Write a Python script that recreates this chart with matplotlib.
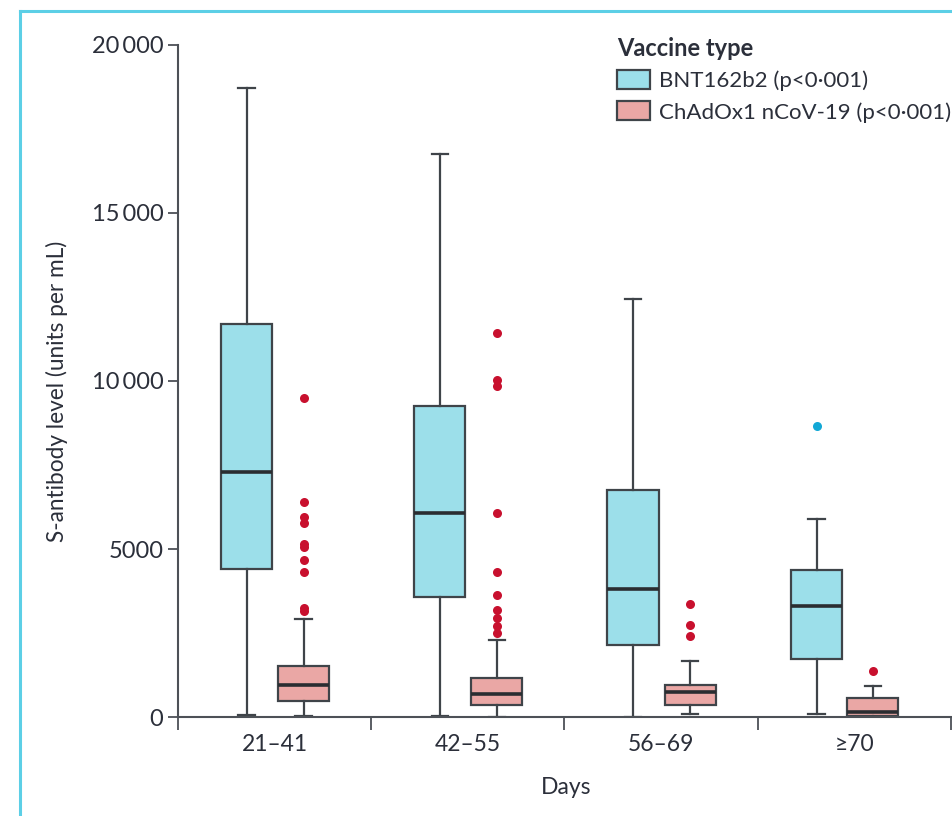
import matplotlib
matplotlib.use("Agg")
import matplotlib.pyplot as plt
from matplotlib.patches import Patch
from matplotlib.lines import Line2D
from matplotlib import font_manager

# ---------------- data ----------------
categories = ["21\u201341", "42\u201355", "56\u201369", "\u226570"]

bnt_whislo = [50, 20, 10, 80]
bnt_q1 = [4405, 3571, 2143, 1726]
bnt_med = [7292, 6071, 3810, 3304]
bnt_q3 = [11696, 9256, 6756, 4375]
bnt_whishi = [18720, 16756, 12440, 5893]
bnt_fliers = [[], [], [], [8661]]

chad_whislo = [30, 10, 80, 0]
chad_q1 = [490, 357, 367, 40]
chad_med = [940, 694, 735, 160]
chad_q3 = [1530, 1170, 943, 575]
chad_whishi = [2926, 2292, 1676, 932]
chad_fliers = [
    [9494, 6408, 5962, 5764, 5139, 5069, 4673, 4306, 3235, 3164],
    [11419, 10030, 9851, 6081, 4325, 3621, 3184, 2936, 2708, 2490],
    [3363, 2738, 2401],
    [1378],
]

series_labels = ["BNT162b2 (p<0\u00b7001)", "ChAdOx1 nCoV-19 (p<0\u00b7001)"]
legend_title = "Vaccine type"
y_ticks = [0, 5000, 10000, 15000, 20000]
y_ticklabels = ["0", "5000", "10\u2009000", "15\u2009000", "20\u2009000"]

# ---------------- style ----------------
avail = {f.name for f in font_manager.fontManager.ttflist}
main_font = ["Lato", "DejaVu Sans"]
narrow_font = (["Liberation Sans Narrow", "Lato", "DejaVu Sans"]
               if "Liberation Sans Narrow" in avail else ["Lato", "DejaVu Sans"])
plt.rcParams["font.family"] = main_font

text_col = "#2b2f3a"
axis_col = "#4d5157"
edge_col = "#3f4449"
med_col = "#2a2d31"
bnt_fill = "#9cdfea"
chad_fill = "#eaa7a5"
red = "#c8102e"
cyan = "#12a8d6"

fig = plt.figure(figsize=(9.53, 8.16), dpi=100)
W, H = 953, 816
ax = fig.add_axes([178 / W, 1 - 717 / H, (951 - 178) / W, (717 - 45) / H])

def stats(whislo, q1, med, q3, whishi, fliers):
    return [dict(whislo=a, q1=b, med=c, q3=d, whishi=e, fliers=f)
            for a, b, c, d, e, f in zip(whislo, q1, med, q3, whishi, fliers)]

n = len(categories)
bnt_pos = [i - 0.145 for i in range(n)]
chad_pos = [i + 0.15 for i in range(n)]
bnt_pos[3] -= 0.05
chad_pos[3] -= 0.055

common = dict(widths=0.265, patch_artist=True, capwidths=0.085,
              whiskerprops=dict(color=edge_col, lw=1.6),
              capprops=dict(color=edge_col, lw=1.6),
              medianprops=dict(color=med_col, lw=2.6),
              manage_ticks=False)

ax.bxp(stats(bnt_whislo, bnt_q1, bnt_med, bnt_q3, bnt_whishi, bnt_fliers),
       positions=bnt_pos,
       boxprops=dict(facecolor=bnt_fill, edgecolor=edge_col, lw=1.6),
       flierprops=dict(marker="o", markerfacecolor=cyan, markeredgewidth=0,
                       markersize=6.5),
       **common)
ax.bxp(stats(chad_whislo, chad_q1, chad_med, chad_q3, chad_whishi, chad_fliers),
       positions=chad_pos,
       boxprops=dict(facecolor=chad_fill, edgecolor=edge_col, lw=1.6),
       flierprops=dict(marker="o", markerfacecolor=red, markeredgewidth=0,
                       markersize=6.5),
       **common)

ax.set_xlim(-0.5, n - 0.5)
ax.set_ylim(0, 20000)
for s in ["top", "right"]:
    ax.spines[s].set_visible(False)
for s in ["left", "bottom"]:
    ax.spines[s].set_color(axis_col)
    ax.spines[s].set_linewidth(1.5)

ax.set_yticks(y_ticks)
ax.set_yticklabels(y_ticklabels)
ax.tick_params(axis="y", direction="out", length=7.5, width=1.3, color=axis_col,
               labelsize=17, labelcolor=text_col, pad=3)

ax.set_xticks([i - 0.5 for i in range(n + 1)])
ax.set_xticklabels([])
ax.tick_params(axis="x", which="major", direction="out", length=9, width=1.3,
               color=axis_col)
ax.set_xticks(range(n), minor=True)
ax.set_xticklabels(categories, minor=True, fontsize=16.5, color=text_col,
                   family=narrow_font)
ax.tick_params(axis="x", which="minor", length=0, pad=12)

fig.text(57 / W, 1 - 391 / H, "S-antibody level (units per mL)", rotation=90,
         ha="center", va="center", fontsize=16.3, color=text_col, family=narrow_font)
fig.text(566 / W, 1 - 787 / H, "Days", ha="center", va="center", fontsize=16.5,
         color=text_col, family=narrow_font)

handles = [Patch(facecolor=bnt_fill, edgecolor=edge_col, lw=1.6),
           Patch(facecolor=chad_fill, edgecolor=edge_col, lw=1.6)]
leg = fig.legend(handles, series_labels, title=legend_title, loc="upper left",
                 bbox_to_anchor=(606 / W, 1 - 26 / H), frameon=False,
                 fontsize=16, title_fontproperties=dict(weight="bold", size=17),
                 alignment="left", handlelength=1.5, handleheight=0.95,
                 handletextpad=0.4, labelspacing=0.45, borderpad=0.0)
for t in leg.get_texts():
    t.set_color(text_col)
leg.get_title().set_color(text_col)

# frame lines from source page
fig.add_artist(Line2D([20 / W, 20 / W], [0, 1 - 11 / H], color="#5ccfe6", lw=2.2,
                      transform=fig.transFigure))
fig.add_artist(Line2D([20 / W, 1], [1 - 11 / H, 1 - 11 / H], color="#5ccfe6", lw=2.2,
                      transform=fig.transFigure))

fig.savefig("out.png", dpi=100)
